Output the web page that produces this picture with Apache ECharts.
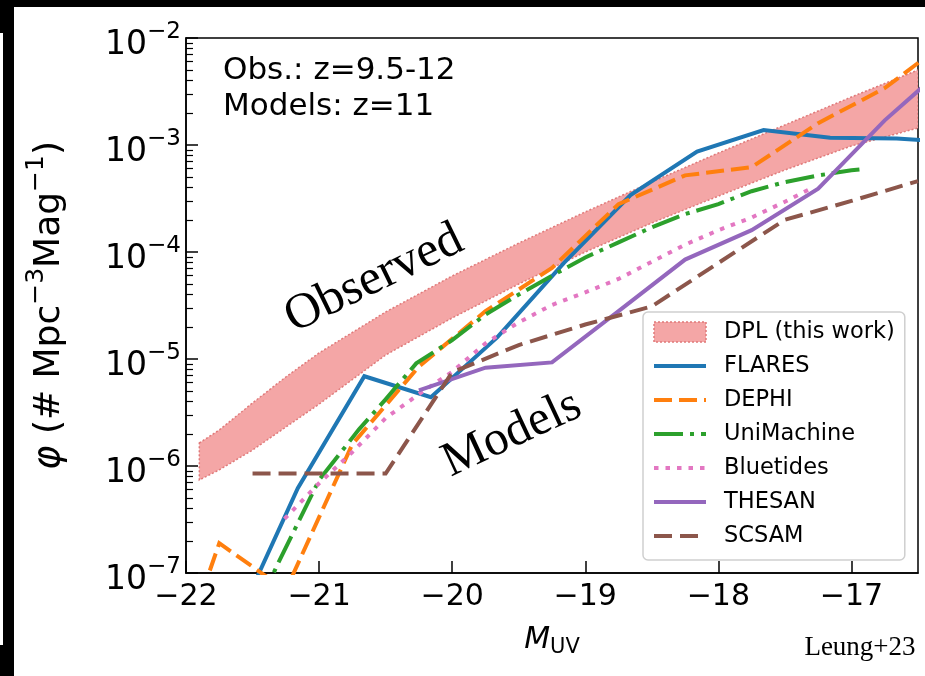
<!DOCTYPE html>
<html>
<head>
<meta charset="utf-8">
<script src="https://cdn.jsdelivr.net/npm/echarts@6/dist/echarts.min.js"></script>
<style>
html,body{margin:0;padding:0;background:#fff;}
#chart{width:925px;height:676px;}
</style>
</head>
<body>
<div id="chart"></div>
<script>
// ---- Data (M_UV, phi) ----
var bandM     = [-21.9, -21.75, -21.5, -21.25, -21.0, -20.5, -20.0, -19.5, -19.0, -18.5, -18.0, -17.5, -17.0, -16.5];
var bandUpper = [1.64e-6, 2.17e-6, 3.88e-6, 6.79e-6, 1.14e-5, 2.75e-5, 5.97e-5, 1.21e-4, 2.37e-4, 4.51e-4, 8.41e-4, 1.54e-3, 2.81e-3, 5.02e-3];
var bandLower = [7.4e-7, 9.2e-7, 1.41e-6, 2.31e-6, 3.79e-6, 1.09e-5, 2.42e-5, 5.02e-5, 1.0e-4, 1.87e-4, 3.33e-4, 5.84e-4, 9.8e-4, 1.44e-3];

var flaresM   = [-21.66, -21.16, -20.66, -20.16, -19.66, -19.16, -18.66, -18.16, -17.66, -17.16, -16.66, -16.16];
var flaresPhi = [2.7e-8, 6.2e-7, 6.9e-6, 4.4e-6, 1.6e-5, 7.9e-5, 3.4e-4, 8.7e-4, 1.38e-3, 1.17e-3, 1.15e-3, 1.05e-3];

var dephiM   = [-22.25, -21.75, -21.25, -20.75, -20.25, -19.75, -19.25, -18.75, -18.25, -17.75, -17.25, -16.75, -16.25];
var dephiPhi = [3e-9, 1.9e-7, 6.9e-8, 1.6e-6, 8.5e-6, 2.8e-5, 7.1e-5, 2.8e-4, 5.2e-4, 6.2e-4, 1.6e-3, 3.4e-3, 1.0e-2];

var uniM   = [-21.45, -21.32, -21.0, -20.7, -20.5, -20.27, -20.0, -19.75, -19.5, -19.25, -19.0, -18.75, -18.5, -18.25, -18.0, -17.75, -17.5, -17.25, -17.0, -16.94];
var uniPhi = [5e-8, 1.15e-7, 7.4e-7, 2.2e-6, 4.2e-6, 9.1e-6, 1.5e-5, 2.6e-5, 4.0e-5, 6.0e-5, 8.9e-5, 1.23e-4, 1.7e-4, 2.26e-4, 2.8e-4, 3.7e-4, 4.5e-4, 5.2e-4, 5.8e-4, 5.9e-4];

var blueM   = [-21.26, -21.0, -20.75, -20.5, -20.25, -20.0, -19.75, -19.5, -19.25, -19.0, -18.75, -18.5, -18.25, -18.0, -17.75, -17.5, -17.29];
var bluePhi = [3.2e-7, 6.9e-7, 1.35e-6, 2.8e-6, 4.7e-6, 7.6e-6, 1.4e-5, 2.2e-5, 3.2e-5, 4.2e-5, 5.6e-5, 8.1e-5, 1.17e-4, 1.6e-4, 2.1e-4, 2.95e-4, 4.0e-4];

var thesanM   = [-20.25, -19.75, -19.25, -18.75, -18.25, -17.75, -17.25, -16.75, -16.25];
var thesanPhi = [5.1e-6, 8.3e-6, 9.3e-6, 2.8e-5, 8.5e-5, 1.6e-4, 3.9e-4, 1.7e-3, 6e-3];

var scsamM   = [-21.5, -21.0, -20.5, -20.0, -19.5, -19.0, -18.5, -18.0, -17.5, -17.0, -16.5];
var scsamPhi = [8.5e-7, 8.5e-7, 8.5e-7, 7.5e-6, 1.35e-5, 2.1e-5, 3.1e-5, 7.9e-5, 2.0e-4, 3.0e-4, 4.6e-4];

var xTicks = [-22, -21, -20, -19, -18, -17];
var yTickExps = [-7, -6, -5, -4, -3, -2];

function pairs(xs, ys){ return xs.map(function(x, i){ return [x, ys[i]]; }); }

var SANS = '"DejaVu Sans", sans-serif';
var SERIF = '"Liberation Serif", "DejaVu Serif", serif';

var chart = echarts.init(document.getElementById('chart'), null, {renderer: 'canvas'});

function lineSeries(name, xs, ys, color, type){
  return {
    type: 'line', name: name, data: pairs(xs, ys), symbol: 'none', clip: true,
    lineStyle: {color: color, width: 4, type: type, cap: 'butt', join: 'miter'},
    itemStyle: {color: color}, z: 3, animation: false
  };
}

var option = {
  animation: false,
  backgroundColor: '#ffffff',
  grid: {left: 186, right: 7, top: 38, bottom: 103, show: true, borderColor: '#000', borderWidth: 1.5, backgroundColor: 'transparent'},
  xAxis: {
    type: 'value', min: -22, max: -16.5, interval: 1,
    axisLine: {show: true, onZero: false, lineStyle: {color: '#000', width: 1.5}},
    axisTick: {show: true, inside: true, length: 12, lineStyle: {color: '#000', width: 1.5}},
    splitLine: {show: false},
    axisLabel: {
      showMaxLabel: false, margin: 9, color: '#000', fontFamily: SANS, fontSize: 30,
      formatter: function(v){ return xTicks.indexOf(v) >= 0 ? (v < 0 ? '\u2212' + Math.abs(v) : '' + v) : ''; }
    },
    name: '{i|M}{s|UV}', nameLocation: 'middle', nameGap: 50,
    nameTextStyle: {
      color: '#000',
      rich: {
        i: {fontFamily: SANS, fontStyle: 'italic', fontSize: 30, color: '#000'},
        s: {fontFamily: SANS, fontSize: 21, color: '#000', padding: [14, 0, 0, 0]}
      }
    }
  },
  yAxis: {
    type: 'log', logBase: 10, min: 1e-7, max: 1e-2,
    axisLine: {show: true, lineStyle: {color: '#000', width: 1.5}},
    axisTick: {show: true, inside: true, length: 12, lineStyle: {color: '#000', width: 1.5}},
    minorTick: {show: true, splitNumber: 9, length: 7, lineStyle: {color: '#000', width: 1.2}},
    splitLine: {show: false},
    minorSplitLine: {show: false},
    axisLabel: {
      margin: 5, color: '#000',
      formatter: function(v){
        var e = Math.round(Math.log10(v));
        return '{b|10}{s|' + (e < 0 ? '\u2212' + Math.abs(e) : e) + '}';
      },
      rich: {
        b: {fontFamily: SANS, fontSize: 33, color: '#000', padding: [14, 0, 0, 0]},
        s: {fontFamily: SANS, fontSize: 23, color: '#000', padding: [0, 0, 12, 0]}
      }
    },
    name: '{f|\u03C6}{p| (# Mpc}{s|\u22123}{p|Mag}{s|\u22121}{p|)}', nameLocation: 'middle', nameGap: 118, nameRotate: 90,
    nameTextStyle: {
      color: '#000',
      rich: {
        f: {fontFamily: SANS, fontStyle: 'italic', fontSize: 37, color: '#000', padding: [14, 0, 0, 0]},
        p: {fontFamily: SANS, fontSize: 36, color: '#000', padding: [14, 0, 0, 0]},
        s: {fontFamily: SANS, fontSize: 25, color: '#000', padding: [0, 0, 13, 0]}
      }
    }
  },
  legend: {
    orient: 'vertical', left: 643, top: 312, width: 264,
    padding: [8, 10, 12, 9], itemGap: 10, itemWidth: 52, itemHeight: 20,
    backgroundColor: 'rgba(255,255,255,0.85)', borderColor: '#cfcfcf', borderWidth: 1.5, borderRadius: 5,
    textStyle: {fontFamily: SANS, fontSize: 22.5, color: '#000', lineHeight: 24, padding: [0, 0, 0, 13]},
    lineStyle: {width: 'inherit', type: 'inherit', cap: 'butt'},
    data: [
      {name: 'DPL (this work)', icon: 'rect', itemStyle: {color: '#F4A6A6', borderColor: '#E07A7A', borderWidth: 1.5, borderType: [2, 2], opacity: 1}},
      {name: 'FLARES', itemStyle: {opacity: 0}},
      {name: 'DEPHI', itemStyle: {opacity: 0}},
      {name: 'UniMachine', itemStyle: {opacity: 0}},
      {name: 'Bluetides', itemStyle: {opacity: 0}},
      {name: 'THESAN', itemStyle: {opacity: 0}},
      {name: 'SCSAM', itemStyle: {opacity: 0}}
    ]
  },
  graphic: [
    {type: 'rect', shape: {x: 0, y: 0, width: 925, height: 7}, style: {fill: '#000'}, z: 100},
    {type: 'rect', shape: {x: 0, y: 0, width: 14, height: 676}, style: {fill: '#000'}, z: 100},
    {type: 'rect', shape: {x: 0, y: 33, width: 3, height: 612}, style: {fill: '#fff'}, z: 101},
    {type: 'text', x: 223, y: 71, style: {text: 'Obs.: z=9.5-12', font: '31px ' + SANS, fill: '#000', textAlign: 'left', textVerticalAlign: 'middle'}, z: 50},
    {type: 'text', x: 223, y: 107, style: {text: 'Models: z=11', font: '31px ' + SANS, fill: '#000', textAlign: 'left', textVerticalAlign: 'middle'}, z: 50},
    {type: 'text', x: 374, y: 279, rotation: 26 * Math.PI / 180, style: {text: 'Observed', font: '50px ' + SERIF, fill: '#000', textAlign: 'center', textVerticalAlign: 'middle'}, z: 50},
    {type: 'text', x: 512, y: 434, rotation: 25 * Math.PI / 180, style: {text: 'Models', font: '49px ' + SERIF, fill: '#000', textAlign: 'center', textVerticalAlign: 'middle'}, z: 50},
    {type: 'text', x: 860, y: 648, style: {text: 'Leung+23', font: '27px ' + SERIF, fill: '#000', textAlign: 'center', textVerticalAlign: 'middle'}, z: 50}
  ],
  series: [
    {
      type: 'custom', name: 'DPL (this work)', coordinateSystem: 'cartesian2d', clip: true, z: 1,
      itemStyle: {color: '#F4A6A6'},
      data: [[bandM[0], bandUpper[0]]],
      renderItem: function(params, api){
        var pts = [];
        for (var i = 0; i < bandM.length; i++) pts.push(api.coord([bandM[i], bandUpper[i]]));
        for (var j = bandM.length - 1; j >= 0; j--) pts.push(api.coord([bandM[j], bandLower[j]]));
        return {type: 'polygon', shape: {points: pts}, style: {fill: '#F4A6A6', stroke: '#E07A7A', lineWidth: 1.5, lineDash: [2, 2]}};
      }
    },
    lineSeries('FLARES', flaresM, flaresPhi, '#1f77b4', 'solid'),
    lineSeries('DEPHI', dephiM, dephiPhi, '#ff7f0e', [18, 7]),
    lineSeries('UniMachine', uniM, uniPhi, '#2ca02c', [29, 7, 4, 7]),
    lineSeries('Bluetides', blueM, bluePhi, '#e377c2', [4.5, 7]),
    lineSeries('THESAN', thesanM, thesanPhi, '#9467bd', 'solid'),
    lineSeries('SCSAM', scsamM, scsamPhi, '#8c564b', [18, 8])
  ]
};
chart.setOption(option);
</script>
</body>
</html>
